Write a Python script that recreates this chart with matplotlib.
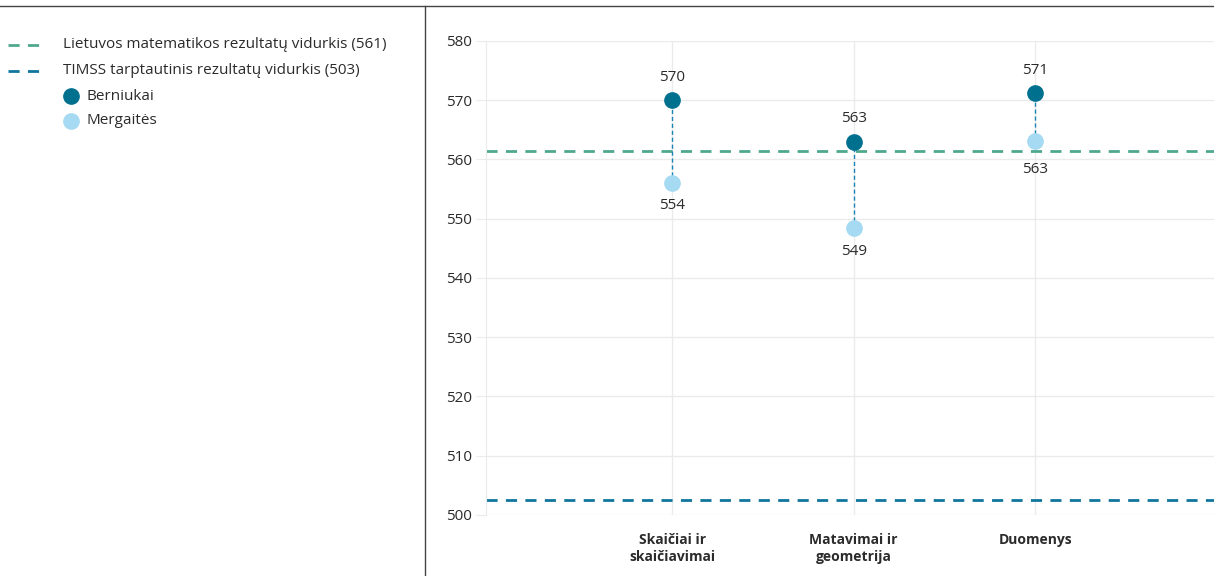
import matplotlib
matplotlib.use("Agg")
import matplotlib.pyplot as plt
from matplotlib.lines import Line2D

# ---- data ----
categories = ["Skaičiai ir\nskaičiavimai", "Matavimai ir\ngeometrija", "Duomenys"]
boys = [570, 563, 571.2]
girls = [556, 548.4, 563.1]
boys_labels = ["570", "563", "571"]
girls_labels = ["554", "549", "563"]
lt_avg = 561.4
timss_avg = 502.5
legend_labels = ["Lietuvos matematikos rezultatų vidurkis (561)",
                 "TIMSS tarptautinis rezultatų vidurkis (503)",
                 "Berniukai", "Mergaitės"]
yticks = [500, 510, 520, 530, 540, 550, 560, 570, 580]

C_BOY = "#00708f"
C_GIRL = "#a6daf2"
C_LT = "#4fa88e"
C_TIMSS = "#11769e"
C_CONN = "#1a84b4"
TXT = "#2b2b2b"
GRID = "#ebebeb"

plt.rcParams['font.family'] = ['Open Sans', 'Noto Sans', 'DejaVu Sans']

W, H = 1214, 576
fig = plt.figure(figsize=(W / 100, H / 100), dpi=100)

ax = fig.add_axes([486 / W, 1 - 515 / H, 1 - 486 / W, (515 - 41) / H])
x = list(range(len(categories)))

ax.set_xlim(-1.025, 2.985)
ax.set_ylim(500, 580)
ax.set_yticks(yticks)
ax.set_xticks(x)
ax.set_xticklabels(categories, fontweight="bold", fontsize=10, color=TXT,
                   linespacing=1.25)
ax.tick_params(axis="x", length=0, pad=13)
ax.tick_params(axis="y", length=7, color=GRID, labelsize=11, labelcolor=TXT, pad=3)
for s in ["top", "right", "bottom"]:
    ax.spines[s].set_visible(False)
ax.spines["left"].set_color(GRID)
ax.grid(True, color=GRID, linewidth=1)
ax.set_axisbelow(True)

ax.axhline(lt_avg, color=C_LT, linestyle=(0, (4, 3)), linewidth=2, zorder=2)
ax.axhline(timss_avg, color=C_TIMSS, linestyle=(0, (4, 3)), linewidth=2, zorder=2)

for xi, b, g in zip(x, boys, girls):
    ax.plot([xi, xi], [g, b], color=C_CONN, linestyle=(0, (3, 2)), linewidth=1, zorder=3)
ax.plot(x, boys, "o", color=C_BOY, markersize=11, zorder=4, linestyle="none")
ax.plot(x, girls, "o", color=C_GIRL, markersize=11, zorder=4, linestyle="none")

girl_offsets = [-11, -11, -15]
for xi, b, lab in zip(x, boys, boys_labels):
    ax.annotate(lab, (xi, b), xytext=(0, 11), textcoords="offset points",
                ha="center", va="bottom", fontsize=11, color=TXT)
for xi, g, lab, off in zip(x, girls, girls_labels, girl_offsets):
    ax.annotate(lab, (xi, g), xytext=(0, off), textcoords="offset points",
                ha="center", va="top", fontsize=11, color=TXT)

# frame lines
fig.add_artist(Line2D([0, 1], [1 - 6 / H, 1 - 6 / H], color="#444444", linewidth=1))
fig.add_artist(Line2D([425 / W, 425 / W], [0, 1 - 6 / H], color="#444444", linewidth=1))

# legend
rows = [45, 71, 96, 121]
for i, (yy, lab) in enumerate(zip(rows, legend_labels)):
    fy = 1 - yy / H
    if i < 2:
        col = C_LT if i == 0 else C_TIMSS
        fig.add_artist(Line2D([8 / W, 46 / W], [fy, fy], color=col,
                              linestyle=(0, (4, 3)), linewidth=2))
        fig.text(63 / W, fy, lab, fontsize=11, color=TXT, va="center", ha="left")
    else:
        col = C_BOY if i == 2 else C_GIRL
        fig.add_artist(Line2D([71 / W], [fy], marker="o", color=col,
                              markersize=11, linestyle="none"))
        fig.text(86 / W, fy, lab, fontsize=11, color=TXT, va="center", ha="left")

fig.savefig("out.png", dpi=100)
